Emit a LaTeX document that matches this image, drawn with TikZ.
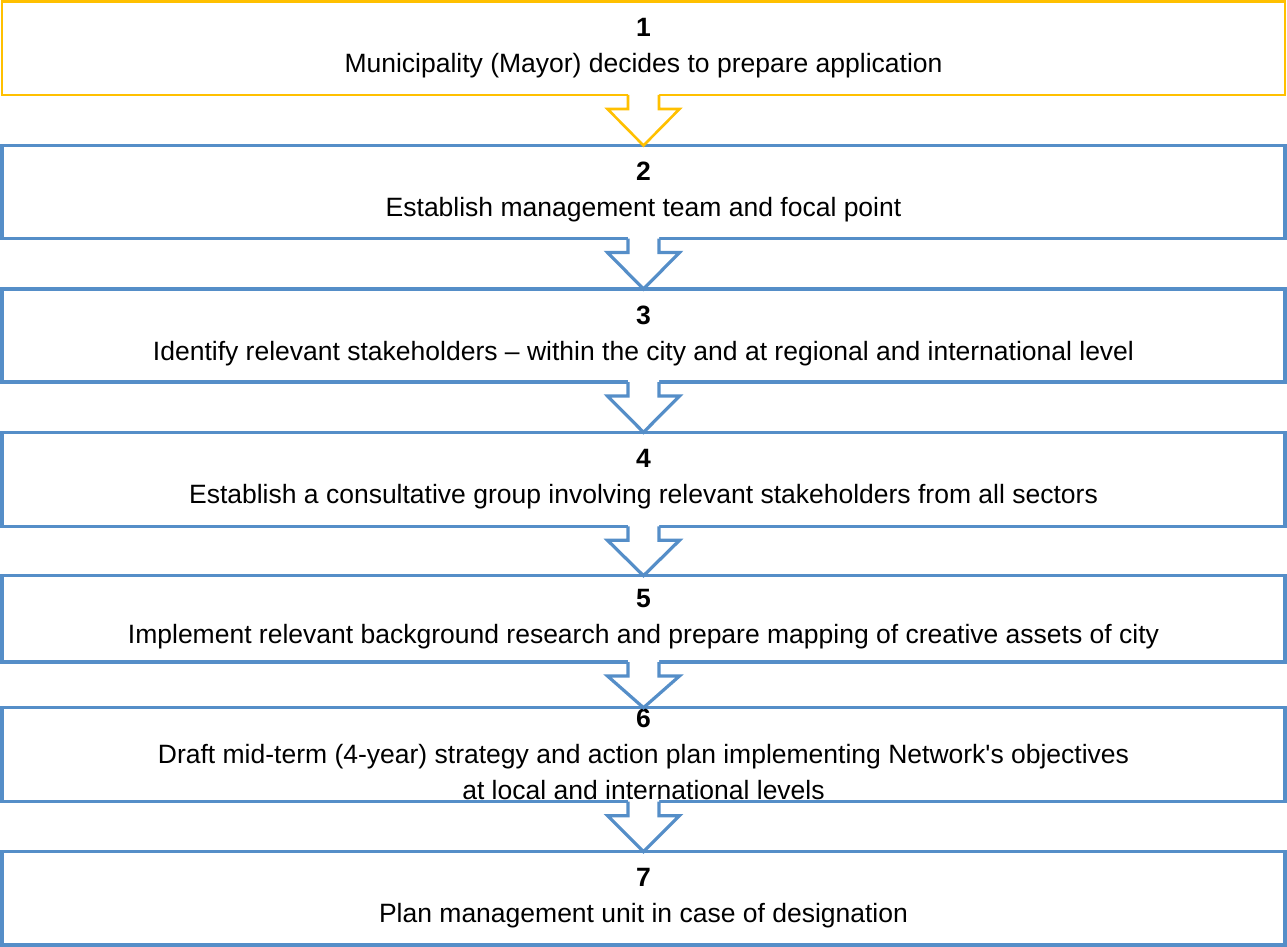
\documentclass[tikz,border=0pt]{standalone}
\usepackage{fontspec}
\setmainfont{Liberation Sans}
\usetikzlibrary{calc}
\definecolor{boxblue}{RGB}{85,142,200}
\definecolor{boxyellow}{RGB}{255,192,0}
\newcommand\flowarrow[4]{% from, to, colour, line width
  \fill[white] ($(#1.south)+(-15.5,-2.5)$) -- ($(#1.south)+(-15.5,14)$) -- ($(#1.south)+(-36,14)$)
    -- ($(#2.north)+(0,0)$) -- ($(#1.south)+(36,14)$) -- ($(#1.south)+(15.5,14)$)
    -- ($(#1.south)+(15.5,-2.5)$) -- cycle;
  \draw[draw=#3,line width=#4,line join=miter] ($(#1.south)+(-15.5,0)$) -- ($(#1.south)+(-15.5,14)$)
    -- ($(#1.south)+(-36,14)$) -- ($(#2.north)+(0,0)$) -- ($(#1.south)+(36,14)$)
    -- ($(#1.south)+(15.5,14)$) -- ($(#1.south)+(15.5,0)$);}
\begin{document}
\begin{tikzpicture}[x=1pt,y=-1pt,
  stepbox/.style={draw=boxblue,line width=3.2pt,inner sep=0pt,outer sep=0pt,
    minimum width=1283pt,align=center,anchor=north,
    font=\fontsize{26.5}{36}\selectfont}]
\useasboundingbox (0,0) rectangle (1287,947);
\fill[white] (0,0) rectangle (1287,947);
\node[stepbox,draw=boxyellow,line width=2.6pt,minimum height=93.5pt] (b1) at (643.5,1.5)
  {\textbf{1}\\Municipality (Mayor) decides to prepare application};
\node[stepbox,minimum height=93pt] (b2) at (643.5,145.5)
  {\textbf{2}\\Establish management team and focal point};
\node[stepbox,minimum height=93pt] (b3) at (643.5,289)
  {\textbf{3}\\Identify relevant stakeholders – within the city and at regional and international level};
\node[stepbox,minimum height=94pt] (b4) at (643.5,432.3)
  {\textbf{4}\\Establish a consultative group involving relevant stakeholders from all sectors};
\node[stepbox,minimum height=86.3pt] (b5) at (643.5,575.7)
  {\textbf{5}\\Implement relevant background research and prepare mapping of creative assets of city};
\node[stepbox,minimum height=94pt] (b6) at (643.5,707.7)
  {\textbf{6}\\Draft mid-term (4-year) strategy and action plan implementing Network\textquotesingle s objectives\\at local and international levels};
\node[stepbox,minimum height=93.3pt] (b7) at (643.5,851.7)
  {\textbf{7}\\Plan management unit in case of designation};
\flowarrow{b1}{b2}{boxyellow}{2.6pt}
\flowarrow{b2}{b3}{boxblue}{3.2pt}
\flowarrow{b3}{b4}{boxblue}{3.2pt}
\flowarrow{b4}{b5}{boxblue}{3.2pt}
\flowarrow{b5}{b6}{boxblue}{3.2pt}
\flowarrow{b6}{b7}{boxblue}{3.2pt}
\end{tikzpicture}
\end{document}
